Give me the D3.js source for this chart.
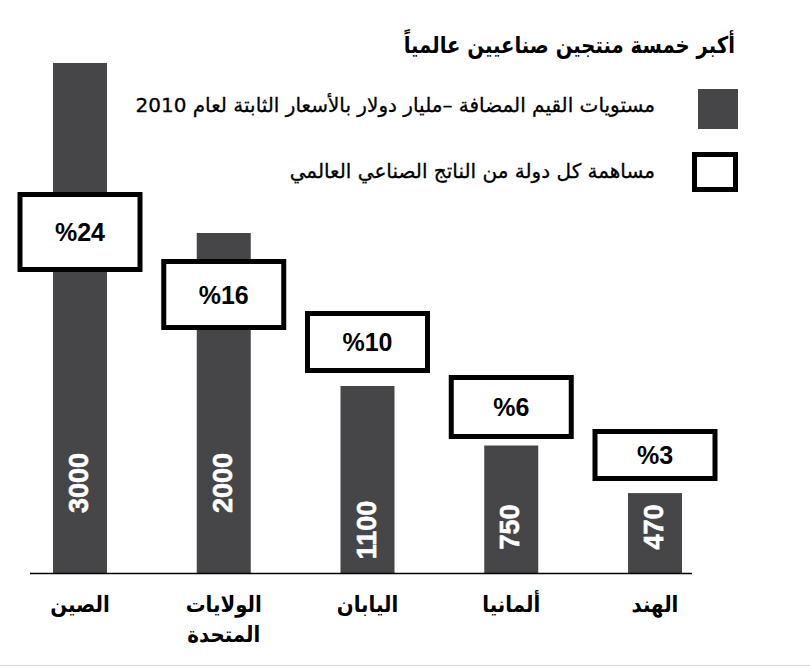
<!DOCTYPE html>
<html>
<head>
<meta charset="utf-8">
<script src="https://cdn.jsdelivr.net/npm/d3@7"></script>
<style>
  html, body { margin: 0; padding: 0; background: #fff; }
  svg { display: block; }
</style>
</head>
<body>
<svg id="chart" width="810" height="667"></svg>
<script>
// ---- data ----
const countries = ["الصين", "الولايات المتحدة", "اليابان", "ألمانيا", "الهند"];
const valueAdded = [3000, 2000, 1100, 750, 470];      // billion USD, constant 2010 prices
const worldShare = [24, 16, 10, 6, 3];                // % of world industrial output
const titleText = "أكبر خمسة منتجين صناعيين عالمياً";
const legendLabels = [
  "مستويات القيم المضافة –مليار دولار بالأسعار الثابتة لعام 2010",
  "مساهمة كل دولة من الناتج الصناعي العالمي"
];

// ---- layout (not data) ----
const boxTop = [192, 259, 311, 375, 429];
const boxHeight = [80, 71, 62, 64, 52];
const valueLabelCenter = [483, 483, 530, 527, 527];

const BAR = "#464648";
const AR = "'DejaVu Sans', sans-serif";
const NUM = "'Liberation Sans', Arial, sans-serif";
const NARROW = "'Liberation Sans Narrow', 'Liberation Sans', Arial, sans-serif";

const svg = d3.select("#chart");
const data = countries.map((c, i) => ({ c, v: valueAdded[i], s: worldShare[i], i }));

const x = d3.scalePoint().domain(countries).range([80, 655]);
const y = d3.scaleLinear().domain([0, 3000]).range([573, 63]);
const barW = 54;
const boxW = 125;

// bars
svg.append("g").selectAll("rect").data(data).join("rect")
  .attr("x", d => x(d.c) - barW / 2)
  .attr("y", d => y(d.v))
  .attr("width", barW)
  .attr("height", d => y(0) - y(d.v))
  .attr("fill", BAR);

// baseline
svg.append("line")
  .attr("x1", 30).attr("x2", 692)
  .attr("y1", y(0) + 0.5).attr("y2", y(0) + 0.5)
  .attr("stroke", "#000").attr("stroke-width", 1.5);

// value labels inside bars (rotated)
svg.append("g").selectAll("text").data(data).join("text")
  .attr("transform", d => `translate(${x(d.c) + 8},${valueLabelCenter[d.i]}) rotate(-90)`)
  .attr("text-anchor", "middle")
  .attr("font-family", NARROW)
  .attr("font-weight", "bold")
  .attr("font-size", 27)
  .attr("fill", "#fff")
  .attr("stroke", "#fff")
  .attr("stroke-width", 0.6)
  .text(d => d.v);

// share boxes
const boxes = svg.append("g").selectAll("g").data(data).join("g");
boxes.append("rect")
  .attr("x", d => x(d.c) - boxW / 2 + 2.5)
  .attr("y", d => boxTop[d.i] + 2.5)
  .attr("width", boxW - 5)
  .attr("height", d => boxHeight[d.i] - 5)
  .attr("fill", "#fff")
  .attr("stroke", "#000")
  .attr("stroke-width", 5);
boxes.append("text")
  .attr("x", d => x(d.c))
  .attr("y", d => boxTop[d.i] + boxHeight[d.i] / 2 + 9)
  .attr("text-anchor", "middle")
  .attr("font-family", NUM)
  .attr("font-weight", "bold")
  .attr("font-size", 25)
  .attr("fill", "#000")
  .text(d => "%" + d.s);

// country labels
const cl = svg.append("g").selectAll("text").data(data).join("text")
  .attr("transform", d => `translate(${x(d.c)},612) scale(0.9,1)`)
  .attr("text-anchor", "middle")
  .attr("direction", "rtl")
  .attr("font-family", AR)
  .attr("font-weight", "bold")
  .attr("font-size", 22)
  .attr("fill", "#000");
cl.each(function(d) {
  const parts = d.c.split(" ");
  d3.select(this).selectAll("tspan").data(parts).join("tspan")
    .attr("x", 0)
    .attr("dy", (p, j) => j === 0 ? 0 : 30)
    .text(p => p);
});

// title
svg.append("text")
  .attr("transform", "translate(735,53) scale(0.855,1)")
  .attr("text-anchor", "start")
  .attr("direction", "rtl")
  .attr("font-family", AR)
  .attr("font-weight", "bold")
  .attr("font-size", 23)
  .attr("fill", "#000")
  .text(titleText);

// legend
svg.append("rect").attr("x", 698).attr("y", 89).attr("width", 40).attr("height", 40).attr("fill", BAR);
svg.append("rect").attr("x", 694.5).attr("y", 154.5).attr("width", 41).attr("height", 35)
  .attr("fill", "#fff").attr("stroke", "#000").attr("stroke-width", 5);
svg.append("g").selectAll("text").data(legendLabels).join("text")
  .attr("x", 655)
  .attr("y", (d, i) => i === 0 ? 112 : 178)
  .attr("text-anchor", "start")
  .attr("direction", "rtl")
  .attr("font-family", AR)
  .attr("font-size", 20)
  .attr("fill", "#000")
  .attr("stroke", "#000")
  .attr("stroke-width", 0.3)
  .text(d => d);

// faint bottom rule
svg.append("line").attr("x1", 0).attr("x2", 810).attr("y1", 665.5).attr("y2", 665.5)
  .attr("stroke", "#d8d8d8").attr("stroke-width", 1);
</script>
</body>
</html>
